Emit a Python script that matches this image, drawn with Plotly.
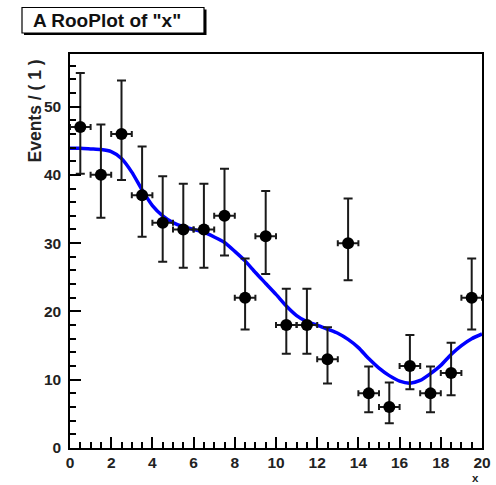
import plotly.graph_objects as go

# ---- data ----
bin_centers = [0.5, 1.5, 2.5, 3.5, 4.5, 5.5, 6.5, 7.5, 8.5, 9.5,
               10.5, 11.5, 12.5, 13.5, 14.5, 15.5, 16.5, 17.5, 18.5, 19.5]
events = [47, 40, 46, 37, 33, 32, 32, 34, 22, 31,
          18, 18, 13, 30, 8, 6, 12, 8, 11, 22]
err_hi = [7.90, 7.38, 7.83, 7.14, 6.80, 6.71, 6.71, 6.89, 5.76, 6.63,
          5.32, 5.32, 4.69, 6.53, 3.94, 3.58, 4.55, 3.94, 4.41, 5.76]
err_lo = [6.83, 6.29, 6.76, 6.05, 5.71, 5.62, 5.62, 5.80, 4.65, 5.53,
          4.20, 4.20, 3.55, 5.44, 2.76, 2.37, 3.41, 2.76, 3.26, 4.65]
bin_half_width = [0.5] * 20

curve_x = [0, 0.5, 1, 1.5, 2, 2.5, 3, 3.5, 4, 4.5, 5, 5.5, 6, 6.5, 7, 7.5,
           8, 8.5, 9, 9.5, 10, 10.5, 11, 11.5, 12, 12.5, 13, 13.5, 14, 14.5,
           15, 15.5, 16, 16.5, 17, 17.5, 18, 18.5, 19, 19.5, 20]
curve_y = [43.9, 43.9, 43.8, 43.7, 43.4, 42.4, 40.4, 37.8, 35.5, 34.0,
           33.0, 32.4, 32.0, 31.6, 30.9, 30.1, 28.8, 27.4, 25.7, 24.1,
           22.5, 20.8, 19.4, 18.5, 18.0, 17.4, 16.8, 15.9, 14.7, 13.1,
           11.7, 10.6, 9.8, 9.5, 9.9, 10.9, 12.1, 13.7, 15.0, 16.0, 16.7]

title_text = 'A RooPlot of "x"'
x_title = "x"
y_title = "Events / ( 1 )"

# ---- layout geometry (pixels) ----
W, H = 496, 485
L, R, T, B = 70, 482, 54, 448
pw, ph = R - L, B - T


def px(xp):
    return (xp - L) / pw


def py(yp):
    return (B - yp) / ph


FONT = "Liberation Sans, Arial, Helvetica, sans-serif"

fig = go.Figure()

fig.add_trace(go.Scatter(
    x=curve_x, y=curve_y, mode="lines",
    line=dict(color="#0000ff", width=3.5, shape="spline", smoothing=0.6),
    hoverinfo="skip", showlegend=False,
))

fig.add_trace(go.Scatter(
    x=bin_centers, y=events, mode="markers",
    marker=dict(color="black", size=12, symbol="circle"),
    error_y=dict(type="data", symmetric=False, array=err_hi, arrayminus=err_lo,
                 color="#1a1a1a", thickness=2, width=4.5),
    error_x=dict(type="data", array=bin_half_width,
                 color="#1a1a1a", thickness=2, width=3),
    showlegend=False,
))

axis_common = dict(
    showgrid=False, zeroline=False, showline=True, linecolor="black",
    linewidth=1.5, mirror=True, ticks="inside", tickcolor="black",
    tickwidth=1.5, ticklen=11, automargin=False,
    tickfont=dict(family=FONT, size=15.5, color="#222222", weight="bold"),
)

fig.update_xaxes(range=[0, 20], dtick=2, tick0=0,
                 minor=dict(dtick=0.5, ticks="inside", ticklen=6,
                            tickcolor="black", tickwidth=1.5),
                 ticklabelstandoff=0, **axis_common)
fig.update_yaxes(range=[0, 57.7], dtick=10, tick0=0,
                 minor=dict(dtick=2, ticks="inside", ticklen=6,
                            tickcolor="black", tickwidth=1.5),
                 ticklabelstandoff=4, **axis_common)

shapes = [
    # title box shadow
    dict(type="rect", xref="paper", yref="paper",
         x0=px(24), x1=px(206.5), y0=py(35), y1=py(9.5),
         fillcolor="black", line=dict(width=0), layer="above"),
    # title box
    dict(type="rect", xref="paper", yref="paper",
         x0=px(22), x1=px(204), y0=py(33), y1=py(7.5),
         fillcolor="white", line=dict(color="black", width=1.2), layer="above"),
]

annotations = [
    dict(text=title_text, xref="paper", yref="paper", x=px(31), y=py(21),
         xanchor="left", yanchor="middle", showarrow=False,
         font=dict(family=FONT, size=19, color="#111111", weight="bold")),
    dict(text=y_title, xref="paper", yref="paper", x=px(34.5), y=py(111),
         xanchor="center", yanchor="middle", textangle=-90, showarrow=False,
         font=dict(family=FONT, size=17.5, color="#222222", weight="bold")),
    dict(text=x_title, xref="paper", yref="paper", x=px(480), y=py(485.5),
         xanchor="right", yanchor="bottom", showarrow=False, borderpad=0,
         font=dict(family=FONT, size=11.5, color="#222222", weight="bold")),
]

fig.update_layout(
    width=W, height=H,
    margin=dict(l=L, r=W - R, t=T, b=H - B, pad=0, autoexpand=False),
    paper_bgcolor="white", plot_bgcolor="white",
    shapes=shapes, annotations=annotations,
    showlegend=False,
)

fig.write_html(
    "out.html",
    config={"displayModeBar": False},
    post_script="document.body.style.margin='0';document.body.style.padding='0';"
                "document.documentElement.style.margin='0';",
)
